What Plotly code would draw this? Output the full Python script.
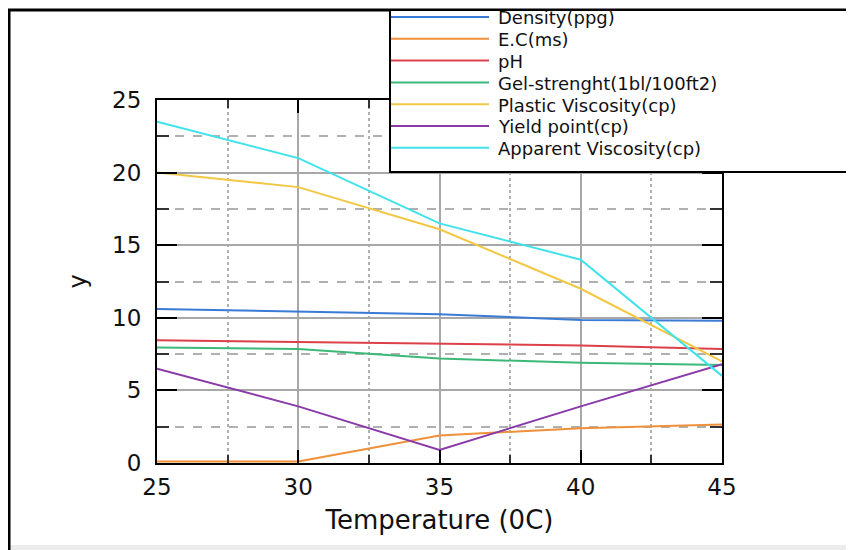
import plotly.graph_objects as go

# ---- data ----
temperature = [25, 30, 35, 40, 45]
density = [10.6, 10.45, 10.25, 9.85, 9.8]
ec = [0.1, 0.1, 1.9, 2.4, 2.65]
ph = [8.45, 8.35, 8.2, 8.1, 7.85]
gel = [7.95, 7.85, 7.2, 6.9, 6.75]
plastic_visc = [20.0, 19.0, 16.1, 12.0, 7.0]
yield_point = [6.5, 3.9, 0.9, 3.9, 6.8]
apparent_visc = [23.5, 21.0, 16.5, 14.0, 6.0]

series_names = ["Density(ppg)", "E.C(ms)", "pH", "Gel-strenght(1bl/100ft2)",
                "Plastic Viscosity(cp)", "Yield point(cp)", "Apparent Viscosity(cp)"]
series_values = [density, ec, ph, gel, plastic_visc, yield_point, apparent_visc]
series_colors = ["#3a7bd5", "#f0903a", "#dc4048", "#3cb878",
                 "#f2c744", "#8a3aa8", "#40e2ec"]

x_ticks = [25, 30, 35, 40, 45]
y_ticks = [0, 5, 10, 15, 20, 25]

OFF = 8  # page body margin of the browser
W, H = 854 - OFF, 550 - OFF
L, R, T, B = 157 - OFF, 722 - OFF, 100 - OFF, 463 - OFF  # plot area in figure pixels

FONT = "DejaVu Sans, Verdana, sans-serif"

fig = go.Figure()
for name, vals, col in zip(series_names, series_values, series_colors):
    fig.add_trace(go.Scatter(x=temperature, y=vals, mode="lines", name=name,
                             line=dict(color=col, width=2), showlegend=False))


def px(xp):
    # xp given in reference-page pixels
    return (xp - OFF - L) / (R - L)


def py(yp):
    return (B - (yp - OFF)) / (B - T)


shapes = []
annotations = []
# outer frame (scanned border)
shapes.append(dict(type="rect", xref="paper", yref="paper", x0=px(0), x1=px(880),
                   y0=py(560), y1=py(545), fillcolor="#ececec", line=dict(width=0),
                   layer="below"))
shapes.append(dict(type="path", xref="paper", yref="paper",
                   path=f"M {px(9)} {py(560)} L {px(9)} {py(10)} L {px(880)} {py(10)}",
                   line=dict(color="black", width=3), layer="above"))
# legend box
shapes.append(dict(type="rect", xref="paper", yref="paper", x0=px(390), x1=px(880),
                   y0=py(172), y1=py(10), fillcolor="white",
                   line=dict(color="black", width=2), layer="above"))
y0_leg, step = 17, 21.8
for i, (name, col) in enumerate(zip(series_names, series_colors)):
    yy = y0_leg + i * step
    shapes.append(dict(type="line", xref="paper", yref="paper", x0=px(391), x1=px(489),
                       y0=py(yy), y1=py(yy), line=dict(color=col, width=2), layer="above"))
    annotations.append(dict(xref="paper", yref="paper", x=px(496), y=py(yy + 1),
                            text=name, showarrow=False, xanchor="left", yanchor="middle",
                            font=dict(family=FONT, size=18, color="#111111")))

fig.update_layout(
    width=W, height=H,
    margin=dict(l=L, r=W - R, t=T, b=H - B, pad=0),
    paper_bgcolor="white", plot_bgcolor="white",
    font=dict(family=FONT, color="#111111"),
    shapes=shapes, annotations=annotations,
    showlegend=False,
)

fig.update_xaxes(
    range=[25, 45], tickvals=x_ticks, ticktext=[str(v) for v in x_ticks],
    showline=True, linecolor="black", linewidth=2, mirror="ticks",
    ticks="inside", ticklen=13, tickwidth=2, tickcolor="black",
    showgrid=True, gridcolor="#a8a8a8", gridwidth=2,
    minor=dict(dtick=2.5, tick0=25, ticks="inside", ticklen=8, tickwidth=2, tickcolor="#333333",
               showgrid=True, gridcolor="#b0b0b0", gridwidth=1.5, griddash="dot"),
    tickfont=dict(family=FONT, size=23, color="#111111"),
    ticklabelstandoff=2,
    title=dict(text="Temperature (0C)", font=dict(family=FONT, size=26, color="#111111"),
               standoff=12),
    zeroline=False,
)
fig.update_yaxes(
    range=[0, 25], tickvals=y_ticks, ticktext=[str(v) for v in y_ticks],
    showline=True, linecolor="black", linewidth=2, mirror="ticks",
    ticks="inside", ticklen=20, tickwidth=2, tickcolor="black",
    showgrid=True, gridcolor="#a8a8a8", gridwidth=2,
    minor=dict(dtick=2.5, tick0=0, ticks="inside", ticklen=12, tickwidth=2, tickcolor="#333333",
               showgrid=True, gridcolor="#b0b0b0", gridwidth=1.5, griddash="dash"),
    tickfont=dict(family=FONT, size=23, color="#111111"),
    ticklabelstandoff=9,
    title=dict(text="y", font=dict(family=FONT, size=24, color="#111111"), standoff=19),
    zeroline=False,
)

fig.write_html("out.html")
